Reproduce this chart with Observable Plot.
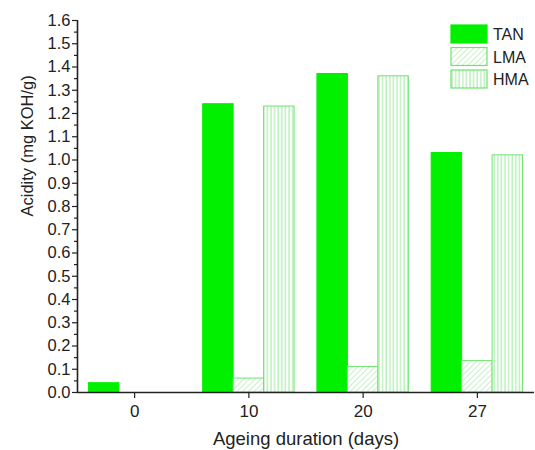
<!DOCTYPE html>
<html>
<head>
<meta charset="utf-8">
<script src="https://cdn.jsdelivr.net/npm/d3@7"></script>
<script src="https://cdn.jsdelivr.net/npm/@observablehq/plot@0.6"></script>
<style>
  html, body { margin: 0; padding: 0; background: #fff; }
  #wrap { position: relative; width: 535px; height: 450px; font-family: "Liberation Sans", Arial, sans-serif; }
  #legend { position: absolute; left: 450px; top: 24px; }
</style>
</head>
<body>
<svg width="0" height="0" style="position:absolute">
  <defs>
    <pattern id="diag" patternUnits="userSpaceOnUse" width="4" height="4" patternTransform="rotate(45)">
      <rect width="4" height="4" fill="#fff"></rect>
      <line x1="0" y1="0" x2="0" y2="4" stroke="#a6eca6" stroke-width="1.3"></line>
    </pattern>
    <pattern id="vert" patternUnits="userSpaceOnUse" width="3.6" height="4">
      <rect width="3.6" height="4" fill="#fff"></rect>
      <line x1="1" y1="0" x2="1" y2="4" stroke="#a6eca6" stroke-width="1.1"></line>
    </pattern>
  </defs>
</svg>
<div id="wrap"><div id="chart"></div><div id="legend"></div></div>
<script>
const days = ["0", "10", "20", "27"];
const series = ["TAN", "LMA", "HMA"];
const tan = [0.04, 1.24, 1.37, 1.03];
const lma = [0, 0.06, 0.11, 0.135];
const hma = [0, 1.23, 1.36, 1.02];
const yTicks = [0.0, 0.1, 0.2, 0.3, 0.4, 0.5, 0.6, 0.7, 0.8, 0.9, 1.0, 1.1, 1.2, 1.3, 1.4, 1.5, 1.6];
const yMinor = [0.05, 0.15, 0.25, 0.35, 0.45, 0.55, 0.65, 0.75, 0.85, 0.95, 1.05, 1.15, 1.25, 1.35, 1.45, 1.55];

const fills = {TAN: "#00f000", LMA: "url(#diag)", HMA: "url(#vert)"};
const strokes = {TAN: "#00f000", LMA: "#70e270", HMA: "#70e270"};
const groupWidth = 0.8;
const barW = groupWidth / series.length;

const values = {TAN: tan, LMA: lma, HMA: hma};
const rows = [];
series.forEach((s, k) => {
  days.forEach((d, i) => {
    rows.push({series: s, k, i, day: d, value: values[s][i]});
  });
});

const barMarks = series.map(s => Plot.rectY(rows.filter(r => r.series === s && r.value > 0), {
  x1: r => r.i - groupWidth / 2 + r.k * barW,
  x2: r => r.i - groupWidth / 2 + (r.k + 1) * barW,
  y: "value",
  fill: fills[s],
  stroke: strokes[s],
  strokeWidth: 1,
  inset: 0
}));

const xDomain = [-0.5, days.length - 0.5];

const chart = Plot.plot({
  width: 535,
  height: 450,
  marginLeft: 77,
  marginRight: 1,
  marginTop: 20,
  marginBottom: 58,
  style: {fontFamily: "Liberation Sans, Arial, sans-serif", fontSize: "16px", color: "#222", background: "#fff"},
  x: {domain: xDomain},
  y: {domain: [0, 1.6]},
  marks: [
    ...barMarks,
    Plot.axisY({ticks: yTicks, tickFormat: d3.format(".1f"), tickSize: 5, tickPadding: 2, fontSize: 16.5,
      label: null, stroke: "#222", strokeWidth: 1.2}),
    Plot.axisY({ticks: yMinor, tickFormat: () => "", tickSize: 3, label: null, stroke: "#222", strokeWidth: 1.2}),
    Plot.axisX({ticks: days.map((d, i) => i), tickFormat: i => days[i], tickSize: 6, tickPadding: 6, fontSize: 17,
      label: null, stroke: "#222", strokeWidth: 1.2}),
    Plot.ruleY([0], {stroke: "#222", strokeWidth: 1.6}),
    Plot.ruleX([xDomain[0]], {y1: 0, y2: 1.6, stroke: "#222", strokeWidth: 1.6}),
    Plot.text(["Ageing duration (days)"], {frameAnchor: "bottom", dy: 52, fontSize: 18.5, fill: "#222"}),
    Plot.text(["Acidity (mg KOH/g)"], {frameAnchor: "left", dx: -50, dy: 10, rotate: -90, fontSize: 16.5, fill: "#222"})
  ]
});
document.getElementById("chart").appendChild(chart);

// Legend
const lg = d3.select("#legend").append("svg").attr("width", 80).attr("height", 70)
  .style("font-family", "Liberation Sans, Arial, sans-serif");
series.forEach((s, k) => {
  const g = lg.append("g").attr("transform", `translate(1,${1 + k * 22.5})`);
  g.append("rect").attr("width", 36).attr("height", 18).attr("fill", fills[s]).attr("stroke", strokes[s]).attr("stroke-width", 1.2);
  g.append("text").attr("x", 42).attr("y", 15).attr("font-size", 16).attr("fill", "#222").text(s);
});
</script>
</body>
</html>
